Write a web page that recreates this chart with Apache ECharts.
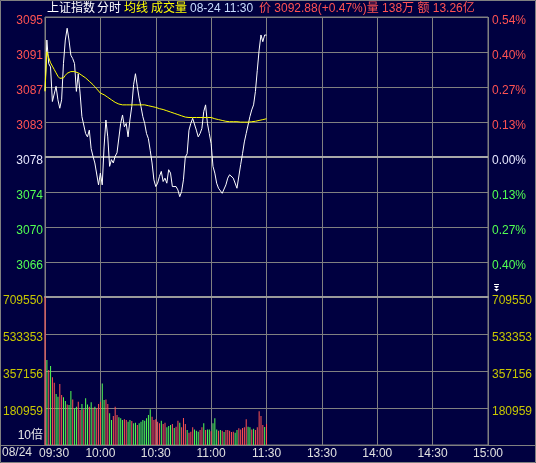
<!DOCTYPE html>
<html><head><meta charset="utf-8">
<script src="https://cdn.jsdelivr.net/npm/echarts/dist/echarts.min.js"></script>
<style>html,body{margin:0;padding:0;background:#000040;}#c{width:536px;height:463px;}</style>
</head><body><div id="c"></div>
<script>
// ---- data ----
const prevClose = 3078.41;          // 3092.88 / 1.0047
const pctStep = 0.00135;            // 0.135% per grid row
const priceTickLabels = ['3095','3091','3087','3083','3078','3074','3070','3066'];
const pctTickLabels = ['0.54%','0.40%','0.27%','0.13%','0.00%','0.13%','0.27%','0.40%'];
const volTickLabels = ['709550','533353','357156','180959'];
const volAxisMax = 709550;
const volAxisStep = 176197;
const xTickLabels = ['09:30','10:00','10:30','11:00','11:30','13:30','14:00','14:30','15:00'];

const prices = [
3086.3,3092.3,3089.5,3089.1,3085.0,3085.2,3086.8,3085.2,3084.2,3085.2,
3089.5,3092.3,3093.7,3092.3,3090.5,3090.1,3089.5,3086.2,3088.3,3086.0,
3083.2,3083.0,3081.2,3080.8,3081.6,3079.4,3078.5,3077.7,3077.9,3075.1,
3076.5,3075.1,3079.6,3082.8,3080.8,3077.3,3078.1,3077.7,3078.5,3078.9,
3078.9,3082.4,3083.4,3082.0,3082.4,3080.8,3082.8,3084.4,3087.0,3088.3,
3086.8,3085.4,3084.4,3083.2,3082.4,3081.2,3080.6,3079.2,3077.7,3075.7,
3074.9,3075.3,3076.1,3076.7,3075.5,3075.9,3075.3,3076.9,3076.5,3074.9,
3074.9,3074.9,3074.5,3073.7,3074.3,3075.7,3078.4,3078.8,3081.6,3082.4,
3083.0,3082.8,3081.6,3080.8,3081.2,3081.8,3083.8,3084.6,3082.4,3081.2,
3080.0,3077.3,3076.5,3075.3,3074.7,3074.5,3074.1,3074.3,3075.1,3075.9,
3076.3,3076.3,3075.9,3076.1,3074.7,3074.9,3077.5,3078.8,3080.2,3081.2,
3081.0,3083.2,3084.0,3084.6,3086.2,3088.7,3091.1,3092.9,3092.1,3092.9,
3092.88];

const avgPrices = [
3086.2,3090.9,3090.2,3089.6,3089.2,3088.8,3088.4,3088.0,3087.75,3087.6,
3087.8,3088.1,3088.35,3088.5,3088.55,3088.55,3088.55,3088.5,3088.4,3088.2,
3088.1,3087.95,3087.8,3087.6,3087.4,3087.2,3087.0,3086.75,3086.5,3086.25,
3086.0,3085.9,3085.8,3085.65,3085.5,3085.35,3085.2,3085.05,3084.9,3084.8,
3084.7,3084.65,3084.6,3084.6,3084.6,3084.6,3084.6,3084.6,3084.6,3084.6,
3084.6,3084.6,3084.6,3084.6,3084.6,3084.55,3084.5,3084.45,3084.4,3084.35,
3084.3,3084.2,3084.15,3084.1,3084.05,3084.0,3083.9,3083.8,3083.75,3083.65,
3083.6,3083.5,3083.45,3083.35,3083.3,3083.2,3083.15,3083.1,3083.1,3083.1,
3083.1,3083.1,3083.1,3083.1,3083.1,3083.1,3083.1,3083.1,3083.1,3083.1,
3083.1,3083.0,3082.95,3082.9,3082.85,3082.8,3082.75,3082.7,3082.65,3082.6,
3082.6,3082.6,3082.6,3082.6,3082.6,3082.6,3082.55,3082.55,3082.55,3082.55,
3082.55,3082.6,3082.6,3082.65,3082.65,3082.7,3082.75,3082.8,3082.85,3082.9,
3082.95];

const volumes = [
709550,409500,361900,381000,327000,301600,247600,235000,295000,243000,
231800,214000,198000,195000,262000,222000,179000,187000,211000,171000,
200000,175000,227000,198000,187000,208000,182000,187000,179000,200000,
211000,298000,219000,222000,200000,156000,124000,143000,187000,148000,
136500,131700,124000,127000,124000,115800,124000,119000,108000,111000,
100000,108000,115800,124000,120600,131700,148000,175000,139700,124000,
127000,115800,108000,120600,104800,111000,88900,95200,100000,104800,
85700,92000,120600,111000,88900,133000,104800,76000,63500,68300,
88900,79000,73000,68300,76000,88900,108000,76000,79000,79000,
69800,108000,131700,79000,73000,76000,73000,66700,76000,76000,
73000,66700,68300,63500,76000,84000,79000,85700,88900,127000,
92000,88900,79000,82500,76000,88900,165000,143000,100000,90000,
105000];

// 1 = up minute (red bar), -1 = down minute (green bar)
const volDirs = [
1,-1,1,-1,1,1,-1,-1,1,1,
-1,-1,1,-1,-1,1,-1,-1,1,1,
-1,1,-1,-1,1,-1,1,-1,1,1,
1,-1,-1,1,1,-1,-1,1,1,1,
-1,-1,-1,1,1,-1,-1,1,-1,-1,
1,-1,-1,-1,-1,-1,-1,-1,1,1,
1,1,1,-1,1,1,-1,-1,-1,1,
-1,1,1,-1,1,1,1,-1,1,1,
1,-1,-1,-1,1,1,-1,1,-1,-1,
1,-1,-1,-1,1,-1,1,-1,1,1,
1,1,1,-1,-1,1,1,1,1,1,
-1,-1,1,-1,1,1,1,1,1,-1,
1];

// ---- chart ----
const pad = n => (n < 10 ? '0' : '') + n;
const times = [];
for (let m = 0; m <= 120; m++) { const t = 570 + m; times.push(pad(Math.floor(t / 60)) + ':' + pad(t % 60)); }
for (let m = 1; m <= 120; m++) { const t = 780 + m; times.push(pad(Math.floor(t / 60)) + ':' + pad(t % 60)); }
const xData = times.map(t => t === '09:30' ? { value: t, textStyle: { padding: [0, 0, 0, 18] } } : t);

const step = +(prevClose * pctStep).toFixed(4);
const pMin = +(prevClose - 4 * step).toFixed(4);
const pMax = +(prevClose + 4 * step).toFixed(4);
const vMin = volAxisMax - 4 * volAxisStep;

const RED = '#ff5252', GREEN = '#52ff52', WHITE = '#e8e8ff', GRID = '#808080', YEL = '#c8c800';
const FONT = "'Liberation Sans','Noto Sans CJK SC',sans-serif";

const pk = v => Math.round((parseFloat(v) - pMin) / step);
const vk = v => Math.round((parseFloat(v) - vMin) / volAxisStep);
const priceColor = v => { const k = pk(v); return k > 4 ? RED : (k === 4 ? WHITE : GREEN); };

function priceAxis(pos, labels) {
  return {
    gridIndex: 0, type: 'value', position: pos, min: pMin, max: pMax, interval: step,
    axisLine: { show: false }, axisTick: { show: false },
    splitLine: { show: pos === 'left', lineStyle: { color: GRID, width: 1 } },
    axisLabel: {
      showMinLabel: false, showMaxLabel: true,
      margin: pos === 'left' ? 2 : 4, fontSize: 12, fontFamily: FONT,
      verticalAlign: 'top', lineHeight: 8,
      formatter: v => { const k = pk(v); return k <= 0 ? '' : labels[8 - k]; },
      color: v => priceColor(v)
    }
  };
}
function volAxis(pos) {
  return {
    gridIndex: 1, type: 'value', position: pos, min: vMin, max: volAxisMax, interval: volAxisStep,
    axisLine: { show: false }, axisTick: { show: false },
    splitLine: { show: pos === 'left', lineStyle: { color: GRID, width: 1 } },
    axisLabel: {
      showMinLabel: false, showMaxLabel: true,
      margin: pos === 'left' ? 2 : 4, fontSize: 12, fontFamily: FONT, color: YEL,
      verticalAlign: 'top', lineHeight: 8,
      formatter: v => { const k = vk(v); return k <= 0 ? '' : volTickLabels[4 - k]; }
    }
  };
}
const xSplit = (i) => i % 30 === 0;

const hdr = (x, text, color) => ({
  type: 'text', left: x, top: 3, z: 100,
  style: { text, fill: color, font: "12px 'Liberation Sans','Noto Sans CJK SC',sans-serif" }
});

const chart = echarts.init(document.getElementById('c'), null, { renderer: 'canvas' });
chart.setOption({
  backgroundColor: '#000040',
  animation: false,
  grid: [
    { left: 45, right: 48, top: 17, height: 280, show: true, borderColor: GRID, borderWidth: 1 },
    { left: 45, right: 48, top: 297, height: 148, show: true, borderColor: GRID, borderWidth: 1 }
  ],
  xAxis: [
    { gridIndex: 0, type: 'category', data: xData, boundaryGap: false,
      axisLine: { show: true, onZero: false, lineStyle: { color: '#9a9a9a', width: 2 } },
      axisTick: { show: false }, axisLabel: { show: false },
      splitLine: { show: true, interval: xSplit, lineStyle: { color: GRID, width: 1 } } },
    { gridIndex: 1, type: 'category', data: xData, boundaryGap: false,
      axisLine: { show: true, onZero: false, lineStyle: { color: GRID, width: 1 } },
      axisTick: { show: false },
      axisLabel: { interval: (i, v) => xTickLabels.indexOf(v) >= 0, color: '#e0e0e0', fontSize: 12, fontFamily: FONT, margin: 3 },
      splitLine: { show: true, interval: xSplit, lineStyle: { color: GRID, width: 1 } } }
  ],
  yAxis: [
    priceAxis('left', priceTickLabels),
    priceAxis('right', pctTickLabels),
    volAxis('left'),
    volAxis('right')
  ],
  series: [
    { type: 'line', xAxisIndex: 0, yAxisIndex: 0, data: prices, symbol: 'none', z: 5,
      lineStyle: { color: '#ffffff', width: 1 },
      markLine: { silent: true, symbol: 'none', label: { show: false },
        lineStyle: { color: '#a8a8a8', width: 2, type: 'solid' }, data: [{ yAxis: prevClose }] } },
    { type: 'line', xAxisIndex: 0, yAxisIndex: 0, data: avgPrices, symbol: 'none', z: 6,
      lineStyle: { color: '#ffff00', width: 1 } },
    { type: 'bar', xAxisIndex: 1, yAxisIndex: 2, data: volumes, barWidth: 1,
      itemStyle: { color: p => volDirs[p.dataIndex] > 0 ? RED : GREEN } }
  ],
  graphic: [
    hdr(47, '上证指数', '#ffffff'),
    hdr(97, '分时', '#ffffff'),
    hdr(124, '均线', '#ffff00'),
    hdr(151, '成交量', '#ffff00'),
    hdr(190, '08-24 11:30', '#c8dcff'),
    hdr(259, '价 3092.88(+0.47%)量 138万 额 13.26亿', '#ff5252'),
    { type: 'text', left: 2, top: 447, z: 100,
      style: { text: '08/24', fill: '#e0e0e0', font: "12px 'Liberation Sans',sans-serif" } },
    { type: 'text', right: 536 - 43, top: 430, z: 100,
      style: { text: '10倍', fill: '#e8e8e8', font: "12px 'Liberation Sans','Noto Sans CJK SC',sans-serif" } },
    { type: 'line', z: 100, shape: { x1: 0, y1: 445.5, x2: 45, y2: 445.5 }, style: { stroke: GRID, lineWidth: 1 } },
    { type: 'line', z: 100, shape: { x1: 488, y1: 445.5, x2: 536, y2: 445.5 }, style: { stroke: GRID, lineWidth: 1 } },
    { type: 'polyline', z: 100, shape: { points: [[494, 284.5], [499, 284.5]] }, style: { stroke: '#ffffff', lineWidth: 1 } },
    { type: 'polygon', z: 100, shape: { points: [[494, 286], [499, 286], [496.5, 288.5]] }, style: { fill: '#ffffff' } },
    { type: 'polygon', z: 100, shape: { points: [[494, 289], [499, 289], [496.5, 291.5]] }, style: { fill: '#ffffff' } },
    { type: 'rect', z: 100, shape: { x: 0.5, y: 0.5, width: 535, height: 462 }, style: { fill: 'none', stroke: GRID, lineWidth: 1 } }
  ]
});
</script></body></html>
